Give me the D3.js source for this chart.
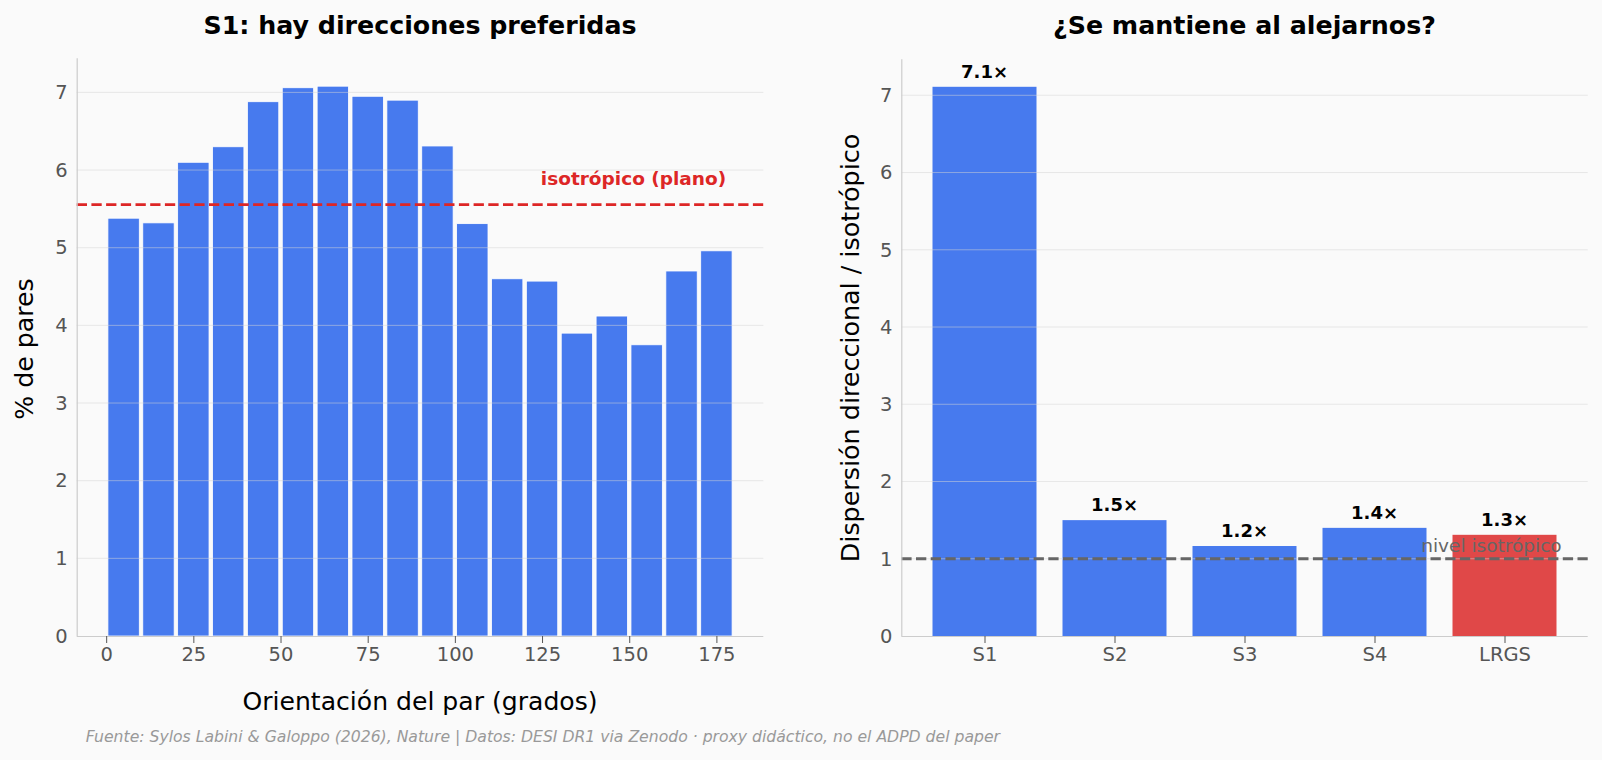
<!DOCTYPE html>
<html>
<head>
<meta charset="utf-8">
<script src="https://cdn.jsdelivr.net/npm/d3@7"></script>
<style>
  html, body { margin: 0; padding: 0; background: #fafafa; }
  svg { display: block; font-family: "DejaVu Sans", sans-serif; }
</style>
</head>
<body>
<svg id="chart" width="1602" height="760"></svg>
<script>
// ---- data ----
const binCenters = [5, 15, 25, 35, 45, 55, 65, 75, 85, 95, 105, 115, 125, 135, 145, 155, 165, 175];
const pctPairs = [5.38, 5.32, 6.10, 6.30, 6.88, 7.06, 7.08, 6.95, 6.90, 6.31, 5.31, 4.60, 4.57, 3.90, 4.12, 3.75, 4.70, 4.96];
const isoLevel = 100 / 18;
const leftXTicks = [0, 25, 50, 75, 100, 125, 150, 175];
const leftYTicks = [0, 1, 2, 3, 4, 5, 6, 7];

const samples = ["S1", "S2", "S3", "S4", "LRGS"];
const ratios = [7.11, 1.50, 1.165, 1.40, 1.31];
const ratioLabels = ["7.1×", "1.5×", "1.2×", "1.4×", "1.3×"];
const rightYTicks = [0, 1, 2, 3, 4, 5, 6, 7];

const BLUE = "#477aee", RED_BAR = "#e04848", RED = "#dd2626", GREY_LINE = "#666666";

const svg = d3.select("#chart");
svg.append("rect").attr("width", 1602).attr("height", 760).attr("fill", "#fafafa");

function drawGrid(g, y, ticks, x0, x1) {
  g.append("g").selectAll("line").data(ticks).join("line")
    .attr("x1", x0).attr("x2", x1)
    .attr("y1", d => y(d)).attr("y2", d => y(d))
    .attr("stroke", "#d6d6d6").attr("stroke-opacity", 0.5).attr("stroke-width", 1);
}

// ================= LEFT PANEL =================
{
  const x = d3.scaleLinear().domain([-8.45, 188.45]).range([76.7, 763.3]);
  const y = d3.scaleLinear().domain([0, 7.439]).range([636, 58.3]);
  const g = svg.append("g");

  g.append("g").selectAll("rect").data(pctPairs).join("rect")
    .attr("x", (d, i) => x(binCenters[i] - 4.5))
    .attr("width", (d, i) => x(binCenters[i] + 4.5) - x(binCenters[i] - 4.5))
    .attr("y", d => y(d))
    .attr("height", d => y(0) - y(d))
    .attr("fill", BLUE).attr("stroke", "#ffffff").attr("stroke-width", 0.8);

  drawGrid(g, y, leftYTicks.slice(1), 76.7, 763.3);

  g.append("line")
    .attr("x1", 76.7).attr("x2", 763.3)
    .attr("y1", y(isoLevel)).attr("y2", y(isoLevel))
    .attr("stroke", RED).attr("stroke-width", 2.8).attr("stroke-dasharray", "10.3 4.4");
  g.append("text")
    .attr("x", x(177.8)).attr("y", y(isoLevel + 0.25))
    .attr("text-anchor", "end").attr("font-size", 18.5).attr("font-weight", "bold")
    .attr("fill", RED).text("isotrópico (plano)");

  const xAxis = d3.axisBottom(x).tickValues(leftXTicks).tickSize(7).tickPadding(4).tickFormat(d3.format("d"));
  const gx = g.append("g").attr("transform", "translate(0,636)").call(xAxis);
  const yAxis = d3.axisLeft(y).tickValues(leftYTicks).tickSize(0).tickPadding(9).tickFormat(d3.format("d"));
  const gy = g.append("g").attr("transform", "translate(76.7,0)").call(yAxis);
  [gx, gy].forEach(a => {
    a.select(".domain").attr("stroke", "#cccccc").attr("stroke-width", 1.2);
    a.selectAll(".tick line").attr("stroke", "#555555").attr("stroke-width", 1);
    a.selectAll(".tick text").attr("fill", "#555555").attr("font-size", 19.5)
      .attr("font-family", "DejaVu Sans, sans-serif");
  });
  gx.select(".domain").attr("d", "M76.7,0.5H763.3");
  gy.select(".domain").attr("d", "M0.5,636V58.3");

  g.append("text").attr("x", 420).attr("y", 33.5).attr("text-anchor", "middle")
    .attr("font-size", 25.3).attr("font-weight", "bold").attr("fill", "#000")
    .text("S1: hay direcciones preferidas");
  g.append("text").attr("x", 420).attr("y", 709.5).attr("text-anchor", "middle")
    .attr("font-size", 25.1).attr("fill", "#000").text("Orientación del par (grados)");
  g.append("text").attr("transform", "translate(33,349) rotate(-90)").attr("text-anchor", "middle")
    .attr("font-size", 25.2).attr("fill", "#000").text("% de pares");
}

// ================= RIGHT PANEL =================
{
  const x = d3.scaleLinear().domain([-0.64, 4.64]).range([901.3, 1587.7]);
  const y = d3.scaleLinear().domain([0, 7.466]).range([636, 59.3]);
  const g = svg.append("g");
  const half = 0.4;

  g.append("g").selectAll("rect").data(ratios).join("rect")
    .attr("x", (d, i) => x(i - half))
    .attr("width", (d, i) => x(i + half) - x(i - half))
    .attr("y", d => y(d))
    .attr("height", d => y(0) - y(d))
    .attr("fill", (d, i) => samples[i] === "LRGS" ? RED_BAR : BLUE);

  drawGrid(g, y, rightYTicks.slice(1), 901.3, 1587.7);

  g.append("g").selectAll("text").data(ratios).join("text")
    .attr("x", (d, i) => x(i)).attr("y", d => y(d + 0.12))
    .attr("text-anchor", "middle").attr("font-size", 18).attr("font-weight", "bold")
    .attr("fill", "#000").text((d, i) => ratioLabels[i]);

  g.append("text")
    .attr("x", x(4.44)).attr("y", y(1.09))
    .attr("text-anchor", "end").attr("font-size", 18.5)
    .attr("fill", "#666666").text("nivel isotrópico");

  g.append("line")
    .attr("x1", 901.3).attr("x2", 1587.7)
    .attr("y1", y(1)).attr("y2", y(1))
    .attr("stroke", GREY_LINE).attr("stroke-width", 2.8).attr("stroke-dasharray", "10.3 4.4");

  const xAxis = d3.axisBottom(x).tickValues(d3.range(samples.length)).tickSize(7).tickPadding(4)
    .tickFormat(i => samples[i]);
  const gx = g.append("g").attr("transform", "translate(0,636)").call(xAxis);
  const yAxis = d3.axisLeft(y).tickValues(rightYTicks).tickSize(0).tickPadding(9).tickFormat(d3.format("d"));
  const gy = g.append("g").attr("transform", "translate(901.3,0)").call(yAxis);
  [gx, gy].forEach(a => {
    a.select(".domain").attr("stroke", "#cccccc").attr("stroke-width", 1.2);
    a.selectAll(".tick line").attr("stroke", "#555555").attr("stroke-width", 1);
    a.selectAll(".tick text").attr("fill", "#555555").attr("font-size", 19.5)
      .attr("font-family", "DejaVu Sans, sans-serif");
  });
  gx.select(".domain").attr("d", "M901.3,0.5H1587.7");
  gy.select(".domain").attr("d", "M0.5,636V59.3");

  g.append("text").attr("x", 1244.5).attr("y", 33.5).attr("text-anchor", "middle")
    .attr("font-size", 25.3).attr("font-weight", "bold").attr("fill", "#000")
    .text("¿Se mantiene al alejarnos?");
  g.append("text").attr("transform", "translate(859,348) rotate(-90)").attr("text-anchor", "middle")
    .attr("font-size", 25.4).attr("fill", "#000").text("Dispersión direccional / isotrópico");
}

svg.append("text").attr("x", 85.7).attr("y", 741.5)
  .attr("font-size", 15.65).attr("font-style", "italic").attr("fill", "#999999")
  .text("Fuente: Sylos Labini & Galoppo (2026), Nature | Datos: DESI DR1 via Zenodo · proxy didáctico, no el ADPD del paper");
</script>
</body>
</html>
